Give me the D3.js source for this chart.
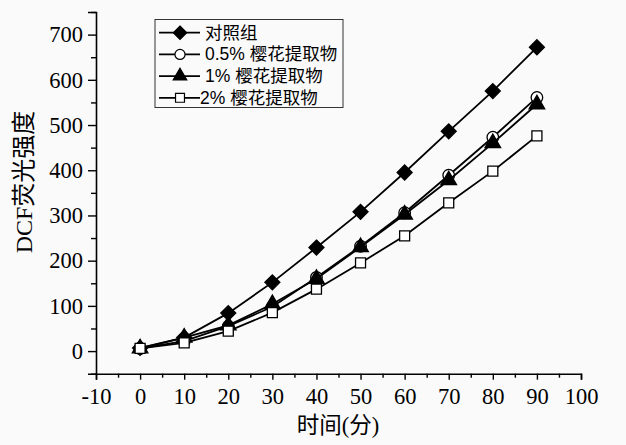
<!DOCTYPE html>
<html><head><meta charset="utf-8">
<script src="https://cdn.jsdelivr.net/npm/d3@7"></script>
<style>
html,body{margin:0;padding:0;background:#fafafa;}
svg{display:block;}
</style></head>
<body>
<svg id="chart" width="626" height="445"></svg>
<script>
const times = [0, 10, 20, 30, 40, 50, 60, 70, 80, 90];
const seriesNames = ["对照组", "0.5% 樱花提取物", "1% 樱花提取物", "2% 樱花提取物"];
const controlValues = [7, 30, 84, 152, 229, 308, 395, 486, 575, 672];
const p05Values = [6, 22, 55, 98, 163, 232, 306, 389, 473, 561];
const p1Values = [6, 30, 57, 104, 160, 230, 302, 378, 460, 546];
const p2Values = [6, 18, 44, 85, 137, 195, 255, 328, 398, 476];
const xTicks = [-10, 0, 10, 20, 30, 40, 50, 60, 70, 80, 90, 100];
const yTicks = [0, 100, 200, 300, 400, 500, 600, 700];
const xTitle = "时间(分)";
const yTitle = "DCF荧光强度";

const svg = d3.select("#chart");
const x = d3.scaleLinear().domain([-10, 100]).range([96, 581]);
const y = d3.scaleLinear().domain([-50, 750]).range([373.7, 12]);

const serif = "'Liberation Serif','Times New Roman','Noto Sans CJK SC',serif";
const sans = "'Liberation Sans',Arial,'Noto Sans CJK SC',sans-serif";

// axes
const fmt = d => String(d);
const xAxis = svg.append("g").attr("transform", `translate(0,${y(-50)})`)
  .call(d3.axisBottom(x).tickValues(xTicks).tickSize(6).tickPadding(8).tickFormat(fmt));
const xMinor = svg.append("g").attr("transform", `translate(0,${y(-50)})`)
  .call(d3.axisBottom(x).tickValues(d3.range(-5, 100, 10)).tickSize(4).tickFormat(""));
const yAxis = svg.append("g").attr("transform", `translate(${x(-10)},0)`)
  .call(d3.axisLeft(y).tickValues(yTicks).tickSize(8).tickPadding(5).tickFormat(fmt));
const yMinor = svg.append("g").attr("transform", `translate(${x(-10)},0)`)
  .call(d3.axisLeft(y).tickValues(d3.range(-50, 751, 100)).tickSize(5).tickFormat(""));
[xAxis, xMinor, yAxis, yMinor].forEach(g => {
  g.select(".domain").attr("stroke", "#000").attr("stroke-width", 1.6);
  g.selectAll(".tick line").attr("stroke", "#000").attr("stroke-width", 1.4);
  g.selectAll("text").attr("font-family", serif).attr("font-size", 22.5).attr("fill", "#000");
});
xMinor.select(".domain").remove();
yMinor.select(".domain").remove();

// titles
svg.append("text").attr("x", 338).attr("y", 433).attr("text-anchor", "middle")
  .attr("font-family", serif).attr("font-size", 22.5).attr("fill", "#000").text(xTitle);
svg.append("text").attr("transform", "translate(32,182) rotate(-90)").attr("text-anchor", "middle")
  .attr("font-family", serif).attr("font-size", 24).attr("fill", "#000").text(yTitle);

// series
const series = [
  {name: seriesNames[0], values: controlValues, shape: "diamond", fill: "#000"},
  {name: seriesNames[1], values: p05Values, shape: "circle", fill: "#fff"},
  {name: seriesNames[2], values: p1Values, shape: "triangle", fill: "#000"},
  {name: seriesNames[3], values: p2Values, shape: "square", fill: "#fff"}
];
const squareDiamond = {
  draw(ctx, size) {
    const r = Math.sqrt(size / 2);
    ctx.moveTo(0, -r); ctx.lineTo(r, 0); ctx.lineTo(0, r); ctx.lineTo(-r, 0); ctx.closePath();
  }
};
const shapeMap = {diamond: squareDiamond, circle: d3.symbolCircle, triangle: d3.symbolTriangle, square: d3.symbolSquare};
const sizeMap = {diamond: 112, circle: 105, triangle: 105, square: 100};

const line = d3.line().x((d, i) => x(times[i])).y(d => y(d));
series.forEach(s => {
  svg.append("path").attr("d", line(s.values)).attr("fill", "none")
    .attr("stroke", "#000").attr("stroke-width", 1.8);
  svg.append("g").selectAll("path").data(s.values).join("path")
    .attr("transform", (d, i) => `translate(${x(times[i])},${y(d)})`)
    .attr("d", d3.symbol().type(shapeMap[s.shape]).size(sizeMap[s.shape]))
    .attr("fill", s.fill).attr("stroke", "#000").attr("stroke-width", 1.3);
});

// legend
const lg = svg.append("g");
lg.append("rect").attr("x", 155).attr("y", 19.5).attr("width", 188).attr("height", 88)
  .attr("fill", "none").attr("stroke", "#333").attr("stroke-width", 1);
const legSizeMap = {diamond: 90, circle: 80, triangle: 80, square: 80};
series.forEach((s, i) => {
  const yy = 32.7 + i * 21.7;
  lg.append("line").attr("x1", 159).attr("x2", 200).attr("y1", yy).attr("y2", yy)
    .attr("stroke", "#000").attr("stroke-width", 1.8);
  lg.append("path").attr("transform", `translate(180,${yy})`)
    .attr("d", d3.symbol().type(shapeMap[s.shape]).size(legSizeMap[s.shape]))
    .attr("fill", s.fill).attr("stroke", "#000").attr("stroke-width", 1.2);
  lg.append("text").attr("x", i === 3 ? 200 : 205).attr("y", yy + 6)
    .attr("font-family", sans).attr("font-size", 17.5).attr("fill", "#000").text(s.name);
});
</script>
</body></html>
